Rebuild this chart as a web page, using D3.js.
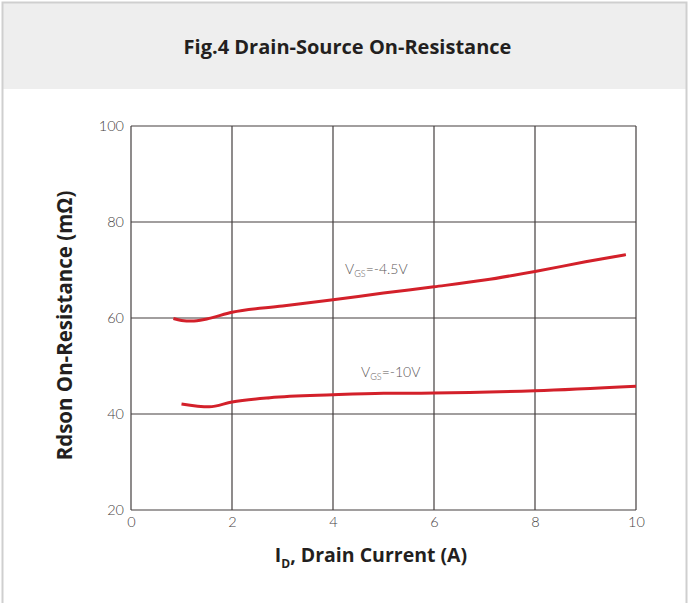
<!DOCTYPE html>
<html>
<head>
<meta charset="utf-8">
<script src="https://cdn.jsdelivr.net/npm/d3@7"></script>
<style>
  html, body { margin: 0; padding: 0; background: #fff; }
  svg { display: block; }
</style>
</head>
<body>
<svg id="chart" width="692" height="603"></svg>
<script>
// Drain current (A) and on-resistance (mΩ) for each gate voltage
const idVgs45 = [0.84, 1.0, 1.2, 1.5, 2.0, 3.0, 4.0, 5.0, 6.0, 7.0, 8.0, 9.0, 9.8];
const rdsVgs45 = [59.9, 59.5, 59.35, 59.8, 61.2, 62.5, 63.8, 65.2, 66.5, 67.9, 69.7, 71.7, 73.2];
const idVgs10 = [1.0, 1.55, 2.0, 2.75, 4.0, 5.0, 6.0, 8.0, 10.0];
const rdsVgs10 = [42.1, 41.5, 42.5, 43.4, 44.0, 44.3, 44.35, 44.85, 45.8];
const xTicks = [0, 2, 4, 6, 8, 10];
const yTicks = [20, 40, 60, 80, 100];

const svg = d3.select("#chart");

// outer frame and header band
svg.append("rect").attr("x", 3).attr("y", 3).attr("width", 683).attr("height", 86)
  .attr("fill", "#eeeeee");
svg.append("path").attr("d", "M2.5,603 V2.5 H686.5 V603")
  .attr("fill", "none").attr("stroke", "#cfcfcf").attr("stroke-width", 2);

svg.append("text").attr("x", 347.5).attr("y", 54).attr("text-anchor", "middle")
  .attr("font-family", "'Open Sans', sans-serif").attr("font-weight", 700)
  .attr("font-size", 20).attr("fill", "#231f20")
  .text("Fig.4 Drain-Source On-Resistance");

const x = d3.scaleLinear().domain([0, 10]).range([131, 636]);
const y = d3.scaleLinear().domain([20, 100]).range([510, 126]);

const gridColor = "#443f3f";
const g = svg.append("g");

// grid
g.selectAll(".vgrid").data(xTicks).join("line")
  .attr("x1", d => x(d)).attr("x2", d => x(d))
  .attr("y1", y(20)).attr("y2", y(100))
  .attr("stroke", gridColor).attr("stroke-width", 1.2);
g.selectAll(".hgrid").data(yTicks).join("line")
  .attr("x1", x(0)).attr("x2", x(10))
  .attr("y1", d => y(d)).attr("y2", d => y(d))
  .attr("stroke", gridColor).attr("stroke-width", 1.2);

// axes tick labels
const tickFont = "'Lato', 'DejaVu Sans', sans-serif";
const xAxis = d3.axisBottom(x).tickValues(xTicks).tickSize(0).tickPadding(7);
const xg = svg.append("g").attr("transform", `translate(0,${y(20)})`).call(xAxis);
const yAxis = d3.axisLeft(y).tickValues(yTicks).tickSize(0).tickPadding(7);
const yg = svg.append("g").attr("transform", `translate(${x(0)},0)`).call(yAxis);
[xg, yg].forEach(a => {
  a.select(".domain").remove();
  a.selectAll("text").attr("font-family", tickFont).attr("font-size", 14.5)
    .attr("font-weight", 300).attr("fill", "#474243");
});

// curves
const lineGen = d3.line().x(d => x(d[0])).y(d => y(d[1])).curve(d3.curveMonotoneX);
const red = "#d3202a";
[[idVgs45, rdsVgs45], [idVgs10, rdsVgs10]].forEach(([xs, ys]) => {
  svg.append("path").datum(xs.map((v, i) => [v, ys[i]]))
    .attr("d", lineGen).attr("fill", "none").attr("stroke", red)
    .attr("stroke-width", 3).attr("stroke-linecap", "butt");
});

// curve labels
function vgsLabel(px, py, value) {
  const t = svg.append("text").attr("x", px).attr("y", py)
    .attr("font-family", tickFont).attr("font-weight", 300)
    .attr("font-size", 14).attr("fill", "#5d5859");
  t.append("tspan").text("V");
  t.append("tspan").attr("font-size", 9).attr("dy", 3).text("GS");
  t.append("tspan").attr("dy", -3).text("=" + value);
}
vgsLabel(345, 274, "-4.5V");
vgsLabel(361, 377, "-10V");

// axis titles
const titleFont = "'Open Sans', sans-serif";
const xt = svg.append("text").attr("x", 371).attr("y", 562).attr("text-anchor", "middle")
  .attr("font-family", titleFont).attr("font-weight", 700).attr("font-size", 19.5)
  .attr("fill", "#231f20");
xt.append("tspan").text("I");
xt.append("tspan").attr("font-size", 12).attr("dy", 6).text("D");
xt.append("tspan").attr("dy", -6).text(", Drain Current (A)");

svg.append("text").attr("transform", "translate(72,325.5) rotate(-90)")
  .attr("text-anchor", "middle")
  .attr("font-family", titleFont).attr("font-weight", 700).attr("font-size", 20.5)
  .attr("fill", "#231f20")
  .text("Rdson On-Resistance (mΩ)");
</script>
</body>
</html>
